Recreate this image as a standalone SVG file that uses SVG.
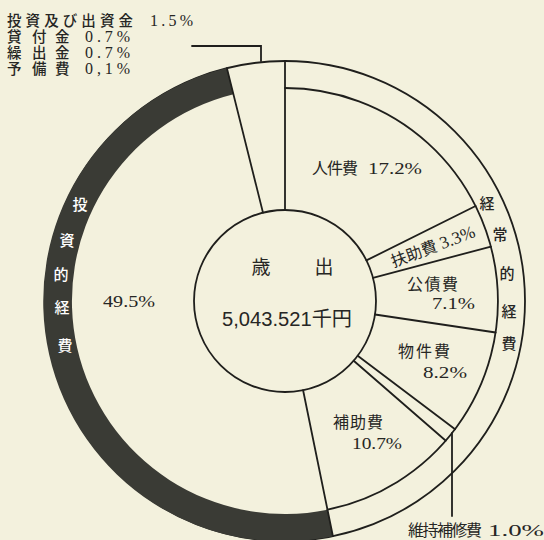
<svg xmlns="http://www.w3.org/2000/svg" width="544" height="540" viewBox="0 0 544 540">
<style>
.ln{fill:none;stroke:#1f1f1c;stroke-width:1.8;stroke-linecap:round}
.kj{font-family:"Noto Sans CJK JP",sans-serif;fill:#262624;font-size:16px}
.nm{font-family:"Liberation Serif",serif;fill:#262624;font-size:17.5px}
.lk{font-family:"Liberation Serif","Noto Sans CJK JP",sans-serif;fill:#262624;font-size:14.5px;font-weight:500}
.lnm{font-family:"Liberation Serif",serif;fill:#262624;font-size:16px}
.rg{font-family:"Noto Sans CJK JP",sans-serif;font-size:15px;text-anchor:middle;font-weight:500}
.ct{font-family:"Liberation Sans","Noto Sans CJK JP",sans-serif;fill:#262624}
</style>
<rect width="544" height="540" fill="#f3f1dd"/>
<g id="ring">
<circle cx="285" cy="301" r="240" class="ln"/>
<path d="M332.9 536.2 A240 240 0 0 1 226.9 68.1 L233.5 94.3 A213 213 0 0 0 327.5 509.7 Z" fill="#3a3b35"/>
<path d="M285 88 A213 213 0 0 1 327.5 509.7" class="ln"/>
</g>
<g id="connectors">
<line x1="285" y1="210" x2="285" y2="61" class="ln"/>
<line x1="366.4" y1="260.4" x2="475.6" y2="206" class="ln"/>
<line x1="373" y1="277.8" x2="490.9" y2="246.6" class="ln"/>
<line x1="375" y1="314.5" x2="495.7" y2="332.5" class="ln"/>
<line x1="357.7" y1="355.8" x2="455.1" y2="429.2" class="ln"/>
<line x1="353.7" y1="360.7" x2="445.8" y2="440.7" class="ln"/>
<line x1="303.1" y1="390.2" x2="332.9" y2="536.2" class="ln"/>
<line x1="263" y1="212.7" x2="226.9" y2="68.1" class="ln"/>
<polyline points="192,46 261,46 261,61" class="ln"/>
<line x1="452" y1="433" x2="452" y2="516" class="ln"/>
</g>
<g id="center">
<circle cx="285" cy="301" r="91" fill="#f3f1dd" class="ln"/>
<text x="261" y="274" class="ct" font-size="19" text-anchor="middle">歳</text>
<text x="324" y="274" class="ct" font-size="19" text-anchor="middle">出</text>
<text x="222" y="326" class="ct" font-size="20" textLength="130" lengthAdjust="spacingAndGlyphs">5,043.521千円</text>
</g>
<g id="jinkenhi"><text x="312" y="174" class="kj" textLength="46">人件費</text><text x="368" y="174" class="nm" textLength="54" lengthAdjust="spacingAndGlyphs">17.2%</text></g>
<g id="fujohi"><text transform="translate(435,252) rotate(-20.65)" text-anchor="middle"><tspan class="kj" font-size="15">扶助費</tspan><tspan class="nm" font-size="16" dx="4">3.3%</tspan></text></g>
<g id="kosaihi"><text x="407" y="290" class="kj" textLength="51">公債費</text><text x="432" y="309" class="nm" textLength="43" lengthAdjust="spacingAndGlyphs">7.1%</text></g>
<g id="bukkenhi"><text x="398" y="357" class="kj" textLength="52">物件費</text><text x="423" y="378" class="nm" textLength="44" lengthAdjust="spacingAndGlyphs">8.2%</text></g>
<g id="hojohi"><text x="333" y="428" class="kj" textLength="50">補助費</text><text x="352" y="449" class="nm" font-size="16.5" textLength="50" lengthAdjust="spacingAndGlyphs">10.7%</text></g>
<g id="ijihoshuhi"><text x="408" y="536" class="kj" font-size="14.5" textLength="74">維持補修費</text><text x="488" y="536" class="nm" textLength="56" lengthAdjust="spacingAndGlyphs">1.0%</text></g>
<g id="toshiteki"><text x="103" y="307" class="nm" textLength="52" lengthAdjust="spacingAndGlyphs">49.5%</text></g>
<g id="keijoteki-label" class="rg" fill="#262624">
<text x="487" y="209">経</text><text x="500" y="240">常</text><text x="507" y="279">的</text><text x="509" y="317">経</text><text x="509" y="349">費</text>
</g>
<g id="toshiteki-label" class="rg" fill="#ffffff">
<text x="80" y="210">投</text><text x="67" y="246">資</text><text x="61" y="280">的</text><text x="62" y="313">経</text><text x="65" y="351">費</text>
</g>
<g id="legend">
<text x="7" y="26" class="lk" textLength="126">投資及び出資金</text><text x="150" y="26" class="lnm" textLength="43">1.5%</text>
<text x="7" y="42" class="lk">貸</text><text x="32" y="42" class="lk">付</text><text x="55" y="42" class="lk">金</text><text x="85" y="42" class="lnm" textLength="45">0.7%</text>
<text x="7" y="58" class="lk">繰</text><text x="32" y="58" class="lk">出</text><text x="55" y="58" class="lk">金</text><text x="85" y="58" class="lnm" textLength="45">0.7%</text>
<text x="7" y="74" class="lk">予</text><text x="32" y="74" class="lk">備</text><text x="55" y="74" class="lk">費</text><text x="85" y="74" class="lnm" textLength="45">0,1%</text>
</g>
</svg>
